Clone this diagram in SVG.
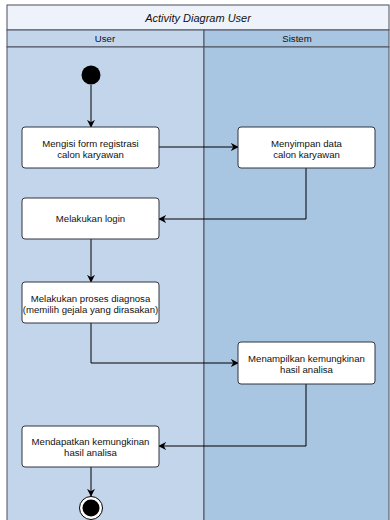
<svg xmlns="http://www.w3.org/2000/svg" width="390" height="520" viewBox="0 0 390 520">
  <defs>
    <marker id="arrow" viewBox="0 0 10 10" refX="9" refY="5" markerWidth="8" markerHeight="8" markerUnits="userSpaceOnUse" orient="auto">
      <path d="M0,0 L10,5 L0,10 L3,5 Z" fill="#000"/>
    </marker>
    <style>
      .lane-line { stroke: #4a4f5c; stroke-width: 1; }
      .act rect { fill: #ffffff; stroke: #2f3440; stroke-width: 1; }
      .act text, .hdr { font-family: "Liberation Sans", Arial, sans-serif; font-size: 9.6px; fill: #111; text-anchor: middle; }
      .title { font-family: "Liberation Sans", Arial, sans-serif; font-size: 11px; font-style: italic; fill: #111; text-anchor: middle; }
      .edge { fill: none; stroke: #000; stroke-width: 1; marker-end: url(#arrow); }
    </style>
  </defs>

  <rect width="390" height="520" fill="#ffffff"/>

  <!-- pool and swimlanes -->
  <g id="pool">
    <rect x="7" y="5" width="382" height="25" fill="#eef3fb" class="lane-line"/>
    <text class="title" x="198" y="22">Activity Diagram User</text>
    <rect x="7" y="30" width="197" height="17" fill="#c3d5eb" class="lane-line"/>
    <rect x="204" y="30" width="185" height="17" fill="#a8c5e1" class="lane-line"/>
    <text class="hdr" x="105" y="42">User</text>
    <text class="hdr" x="297" y="42">Sistem</text>
    <rect x="7" y="47" width="197" height="480" fill="#c3d5eb" class="lane-line"/>
    <rect x="204" y="47" width="185" height="480" fill="#a8c5e1" class="lane-line"/>
  </g>

  <!-- connectors -->
  <g id="connectors">
    <path class="edge" d="M91,85 L91,127"/>
    <path class="edge" d="M159,147 L238,147"/>
    <path class="edge" d="M306,168 L306,219 L159,219"/>
    <path class="edge" d="M91,239 L91,282"/>
    <path class="edge" d="M91,323 L91,363 L238,363"/>
    <path class="edge" d="M306,384 L306,446 L159,446"/>
    <path class="edge" d="M91,467 L91,496"/>
  </g>

  <g id="start">
    <circle cx="91" cy="75" r="9.5" fill="#000"/>
  </g>

  <g id="isi-form" class="act">
    <rect x="22" y="127" width="137" height="41" rx="3"/>
    <text x="90.5" y="146.5">Mengisi form registrasi</text>
    <text x="90.5" y="157.5">calon karyawan</text>
  </g>

  <g id="simpan-data" class="act">
    <rect x="238" y="127" width="137" height="41" rx="3"/>
    <text x="306.5" y="146.5">Menyimpan data</text>
    <text x="306.5" y="157.5">calon karyawan</text>
  </g>

  <g id="login" class="act">
    <rect x="22" y="198" width="137" height="41" rx="3"/>
    <text x="90.5" y="222">Melakukan login</text>
  </g>

  <g id="diagnosa" class="act">
    <rect x="22" y="282" width="137" height="41" rx="3"/>
    <text x="90.5" y="302">Melakukan proses diagnosa</text>
    <text x="90.5" y="313">(memilih gejala yang dirasakan)</text>
  </g>

  <g id="tampil-hasil" class="act">
    <rect x="238" y="342" width="137" height="42" rx="3"/>
    <text x="306.5" y="361.5">Menampilkan kemungkinan</text>
    <text x="306.5" y="372.5">hasil analisa</text>
  </g>

  <g id="dapat-hasil" class="act">
    <rect x="22" y="426" width="137" height="41" rx="3"/>
    <text x="90.5" y="445">Mendapatkan kemungkinan</text>
    <text x="90.5" y="456">hasil analisa</text>
  </g>

  <g id="end">
    <circle cx="91" cy="508" r="11.5" fill="#ffffff" stroke="#000" stroke-width="1"/>
    <circle cx="91" cy="508" r="8.5" fill="#000"/>
  </g>
</svg>
